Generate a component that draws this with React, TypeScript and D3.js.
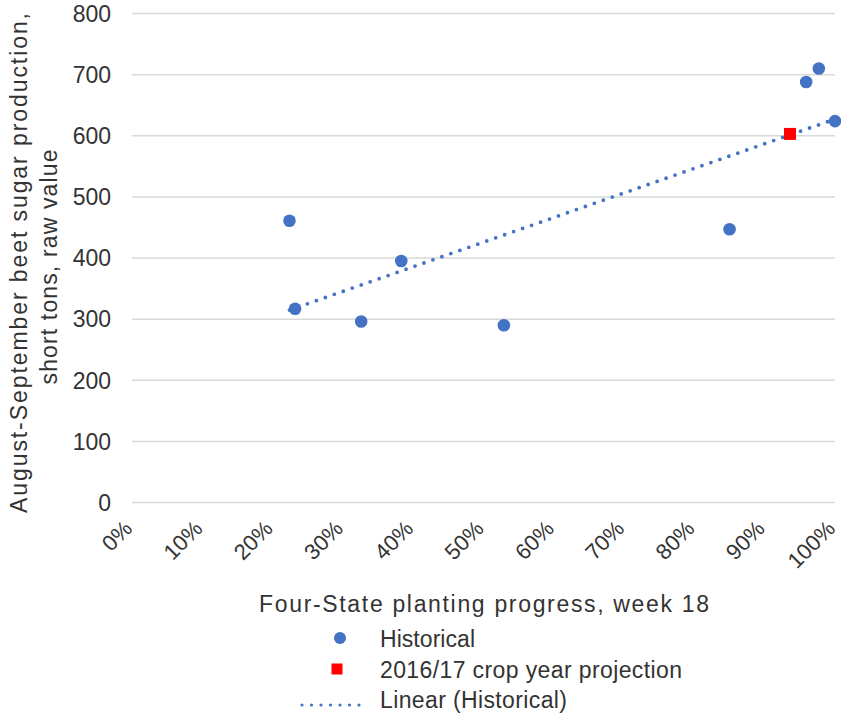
import React from "react";
import * as d3 from "d3";

// Week-18 planting progress (share of acreage planted) for past crop years
const historicalProgress = [0.224, 0.232, 0.326, 0.383, 0.529, 0.85, 0.959, 0.977, 1.0];
// August–September beet sugar production for the same years, short tons raw value
const historicalProduction = [461, 317, 296, 395, 290, 447, 688, 710, 624];

// 2016/17 crop-year projection
const projectionProgress = [0.936];
const projectionProduction = [603];

const yTicks = [0, 100, 200, 300, 400, 500, 600, 700, 800];
const xTicks = [0, 0.1, 0.2, 0.3, 0.4, 0.5, 0.6, 0.7, 0.8, 0.9, 1.0];

const legendLabels = ["Historical", "2016/17 crop year projection", "Linear (Historical)"];

const W = 841;
const H = 715;
const FONT = "'Liberation Sans', Arial, Helvetica, sans-serif";
const TEXT = "#333333";
const BLUE = "#4472C4";
const RED = "#FF0000";

// Ordinary least-squares fit, as in a spreadsheet "Linear" trendline
function linearFit(xs: number[], ys: number[]) {
  const mx = d3.mean(xs) as number;
  const my = d3.mean(ys) as number;
  let sxy = 0;
  let sxx = 0;
  xs.forEach((xv, i) => {
    sxy += (xv - mx) * (ys[i] - my);
    sxx += (xv - mx) * (xv - mx);
  });
  const slope = sxy / sxx;
  const intercept = my - slope * mx;
  return (v: number) => intercept + slope * v;
}

export default function App() {
  const x = d3.scaleLinear().domain([0, 1]).range([132, 835]);
  const y = d3.scaleLinear().domain([0, 800]).range([502.5, 13.5]);
  const pct = d3.format(".0%");

  const fit = linearFit(historicalProgress, historicalProduction);
  const [xMin, xMax] = d3.extent(historicalProgress) as [number, number];
  const trend = d3
    .line<number>()
    .x((d) => x(d))
    .y((d) => y(fit(d)))([xMin, xMax]);

  const points = historicalProgress.map((p, i) => ({ p, v: historicalProduction[i] }));
  const proj = projectionProgress.map((p, i) => ({ p, v: projectionProduction[i] }));

  return (
    <svg
      width={W}
      height={H}
      viewBox={`0 0 ${W} ${H}`}
      style={{ position: "absolute", left: 0, top: 0, background: "#fff" }}
      fontFamily={FONT}
    >
      <rect width={W} height={H} fill="#ffffff" />

      {/* horizontal gridlines */}
      {yTicks.map((t) => (
        <line
          key={`g${t}`}
          x1={x(0)}
          x2={x(1)}
          y1={y(t)}
          y2={y(t)}
          stroke="#d9d9d9"
          strokeWidth={1.5}
        />
      ))}

      {/* y tick labels */}
      {yTicks.map((t) => (
        <text
          key={`yl${t}`}
          x={111}
          y={y(t)}
          dy="0.36em"
          textAnchor="end"
          fontSize={23}
          fill={TEXT}
        >
          {t}
        </text>
      ))}

      {/* x tick labels, rotated */}
      {xTicks.map((t) => (
        <text
          key={`xl${t}`}
          transform={`translate(${x(t) + 1.5},530) rotate(-45)`}
          textAnchor="end"
          fontSize={22}
          fill={TEXT}
        >
          {pct(t)}
        </text>
      ))}

      {/* y axis title */}
      <g transform="translate(27,263) rotate(-90)">
        <text textAnchor="middle" fontSize={23} fill={TEXT} textLength={500} lengthAdjust="spacing">
          August-September beet sugar production,
        </text>
      </g>
      <g transform="translate(57,267) rotate(-90)">
        <text textAnchor="middle" fontSize={23} fill={TEXT} textLength={235} lengthAdjust="spacing">
          short tons, raw value
        </text>
      </g>

      {/* x axis title */}
      <text
        x={484}
        y={612}
        textAnchor="middle"
        fontSize={23}
        fill={TEXT}
        textLength={450}
        lengthAdjust="spacing"
      >
        Four-State planting progress, week 18
      </text>

      {/* linear trendline */}
      <path
        d={trend || ""}
        fill="none"
        stroke={BLUE}
        strokeWidth={3.8}
        strokeLinecap="round"
        strokeDasharray="0 9.5"
      />

      {/* historical points */}
      {points.map((d, i) => (
        <circle key={`p${i}`} cx={x(d.p)} cy={y(d.v)} r={6.3} fill={BLUE} />
      ))}

      {/* projection */}
      {proj.map((d, i) => (
        <rect
          key={`q${i}`}
          x={x(d.p) - 6}
          y={y(d.v) - 6}
          width={12}
          height={12}
          fill={RED}
        />
      ))}

      {/* legend */}
      <circle cx={340} cy={638} r={6} fill={BLUE} />
      <text x={380} y={647} fontSize={23} fill={TEXT} textLength={95} lengthAdjust="spacing">
        {legendLabels[0]}
      </text>
      <rect x={331.5} y={663.5} width={11} height={11} fill={RED} />
      <text x={380} y={678} fontSize={23} fill={TEXT} textLength={302} lengthAdjust="spacing">
        {legendLabels[1]}
      </text>
      <line
        x1={302}
        x2={366}
        y1={705}
        y2={705}
        stroke={BLUE}
        strokeWidth={3.2}
        strokeLinecap="round"
        strokeDasharray="0 9.5"
      />
      <text x={380} y={708} fontSize={23} fill={TEXT} textLength={187} lengthAdjust="spacing">
        {legendLabels[2]}
      </text>
    </svg>
  );
}
